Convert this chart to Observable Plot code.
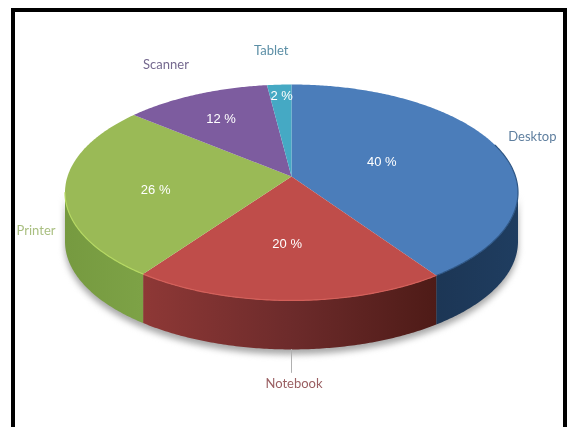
<!DOCTYPE html>
<html><head><meta charset="utf-8">
<script src="https://cdn.jsdelivr.net/npm/d3@7"></script>
<script src="https://cdn.jsdelivr.net/npm/@observablehq/plot@0.6"></script>
<style>
html,body{margin:0;padding:0;background:#fff;width:568px;height:427px;overflow:hidden}
#chart{position:absolute;left:0;top:0}
#chart svg{display:block;background:#fff;filter:blur(0.4px)}
#frame{position:absolute;left:11px;top:8px;width:548px;height:419px;border:4px solid #000;border-bottom:none;pointer-events:none}
</style></head>
<body><div id="chart"></div><div id="frame"></div>
<script>
// data, clockwise from twelve o'clock (read from the slice boundaries; labels show them rounded)
const categories = ["Desktop", "Notebook", "Printer", "Scanner", "Tablet"];
const shares = [40.4, 19.5, 26.1, 12, 2];
// style
const topColors = ["#4b7dba", "#bf4d4a", "#9aba56", "#7d5c9f", "#45a9c4"];
const nameColors = ["#5f7f9f", "#9a5f62", "#a9bf80", "#75698f", "#5c8fa6"];
const rimColors = ["#2e5685", "#d4605a", "#b5d862", "#7d5c9f", "#45a9c4"];
const sideFills = ["url(#sideBlue)", "url(#sideRed)", "url(#sideGreen)", "none", "none"];
const valueRadius = [0.44, 0.58, 0.6, 0.68, 0.87];
const valueDx = [-2, -3, -1, -3, 1];
const valueDy = [-1, 0, 5, 0, 1];
const nameDx = [36, 5, -29, -30, -8];
const nameDy = [-10, 83, 41, -30, -34];

// perspective projection of the pie's disc
const width = 568, height = 427;
const cx = 291, cy = 176, R = 224, S = 105.6, k = 0.148, depth = 49;
const project = (theta, r = 1, drop = 0) => {
  const u = r * Math.sin(theta), v = -r * Math.cos(theta), d = 1 - k * v;
  return {x: cx + R * u / d, y: cy + S * v / d + drop};
};
const total = d3.sum(shares);
let running = 0;
const slices = shares.map((s, i) => {
  const a0 = running / total * 2 * Math.PI;
  running += s;
  return {i, name: categories[i], share: s, a0, a1: running / total * 2 * Math.PI};
});
const arc = (a0, a1, drop = 0) => {
  const n = Math.max(2, Math.ceil((a1 - a0) / 0.01));
  return d3.range(n + 1).map(j => project(a0 + (a1 - a0) * j / n, 1, drop));
};
const edgeAngle = Math.acos(-k);             // where the rim reaches its widest point
const frontA0 = edgeAngle, frontA1 = 2 * Math.PI - edgeAngle;
const center = project(0, 0);

const marks = [];
// gradients for the side wall
marks.push(() => {
  const ns = "http://www.w3.org/2000/svg";
  const defs = document.createElementNS(ns, "defs");
  const grads = {
    sideBlue: ["#1c3655", "#1f3d60"],
    sideRed: ["#8e3836", "#6d2b2b", "#4e1b17"],
    sideGreen: ["#769a40", "#7da246"]
  };
  for (const id in grads) {
    const g = document.createElementNS(ns, "linearGradient");
    g.setAttribute("id", id);
    grads[id].forEach((c, j, all) => {
      const st = document.createElementNS(ns, "stop");
      st.setAttribute("offset", j / (all.length - 1));
      st.setAttribute("stop-color", c);
      g.appendChild(st);
    });
    defs.appendChild(g);
  }
  return defs;
});
// soft shadow beneath the wall
const shadow = [...arc(frontA0, frontA1, depth + 5), ...arc(frontA0, frontA1, 0).reverse()];
marks.push(Plot.line(shadow, {x: "x", y: "y", fill: "#a8a8a8", stroke: "none", imageFilter: "blur(3px)"}));
// side wall
slices.forEach(s => {
  const a0 = Math.max(s.a0, frontA0), a1 = Math.min(s.a1, frontA1);
  if (a1 <= a0) return;
  const pts = [...arc(a0, a1, 0), ...arc(a0, a1, depth).reverse()];
  marks.push(Plot.line(pts, {x: "x", y: "y", fill: sideFills[s.i], stroke: "none"}));
});
// top face
slices.forEach(s => {
  const pts = [center, ...arc(s.a0, s.a1), center];
  marks.push(Plot.line(pts, {x: "x", y: "y", fill: topColors[s.i], stroke: "none"}));
});
// bright rim on the front, dark rim on the far right
slices.forEach(s => {
  const a0 = Math.max(s.a0, s.i === 0 ? Math.PI * 0.4 : frontA0), a1 = Math.min(s.a1, frontA1);
  if (a1 <= a0) return;
  marks.push(Plot.line(arc(a0, a1), {x: "x", y: "y", stroke: rimColors[s.i], strokeWidth: 1.2}));
});
// leader to the bottom name
const leaderAngle = Math.PI;
marks.push(Plot.line([project(leaderAngle, 1, depth), project(leaderAngle, 1, depth + 23)],
  {x: "x", y: "y", stroke: "#b0b0b0", strokeWidth: 1}));
// value labels
slices.forEach(s => {
  const p = project((s.a0 + s.a1) / 2, valueRadius[s.i]);
  marks.push(Plot.text([s], {
    x: () => p.x, y: () => p.y,
    text: d => `${Math.round(d.share)} %`,
    dx: valueDx[s.i], dy: valueDy[s.i],
    fill: "#fff", fontSize: 13, fontFamily: "Liberation Sans"
  }));
});
// category names
slices.forEach(s => {
  const p = project((s.a0 + s.a1) / 2);
  marks.push(Plot.text([s], {
    x: () => p.x, y: () => p.y, text: "name",
    dx: nameDx[s.i], dy: nameDy[s.i],
    fill: nameColors[s.i], fontSize: 13, fontFamily: "Lato"
  }));
});

const chart = Plot.plot({
  width, height,
  margin: 0,
  x: {domain: [0, width], range: [0, width], axis: null},
  y: {domain: [0, height], range: [0, height], axis: null},
  marks
});
document.getElementById("chart").appendChild(chart);
</script>
</body></html>
